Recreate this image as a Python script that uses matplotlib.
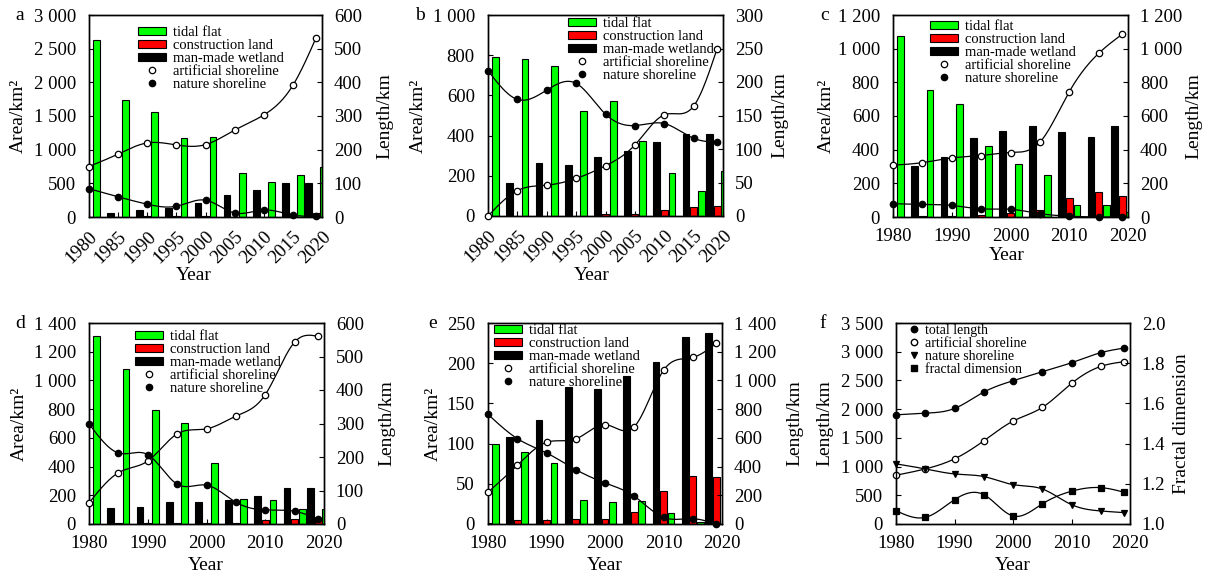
import numpy as np
import matplotlib
matplotlib.use("Agg")
import matplotlib.pyplot as plt
from matplotlib.patches import Patch
from matplotlib.lines import Line2D
from matplotlib.ticker import MultipleLocator, FuncFormatter

# ---------------- data ----------------
years = [1980, 1985, 1990, 1995, 2000, 2005, 2010, 2015, 2019]

a_tidal = [2630, 1740, 1560, 1180, 1190, 650, 520, 630, 745]
a_constr = [0, 5, 20, 15, 15, 5, 5, 5, 55]
a_wetland = [0, 62, 105, 140, 210, 330, 395, 505, 505]
a_artificial = [150, 187, 220, 214, 215, 258, 303, 391, 533]
a_nature = [84, 60, 38, 32, 50, 12, 21, 6, 2]

b_tidal = [790, 780, 745, 520, 572, 375, 215, 123, 225]
b_constr = [0, 0, 0, 0, 8, 8, 30, 43, 50]
b_wetland = [0, 165, 262, 252, 295, 322, 367, 410, 410]
b_artificial = [0, 38, 46, 56, 75, 106, 151, 164, 250]
b_nature = [217, 174, 188, 198, 152, 135, 138, 116, 110]

c_tidal = [1075, 756, 671, 419, 313, 248, 69, 71, 30]
c_constr = [0, 3, 5, 10, 22, 44, 115, 151, 125]
c_wetland = [0, 304, 357, 472, 510, 540, 502, 476, 542]
c_artificial = [308, 323, 351, 365, 383, 444, 744, 972, 1085]
c_nature = [79, 75, 69, 48, 46, 20, 5, 0, 0]

d_tidal = [1310, 1078, 794, 706, 423, 177, 167, 107, 102]
d_constr = [0, 5, 5, 5, 5, 10, 28, 33, 35]
d_wetland = [0, 114, 116, 151, 156, 167, 198, 251, 253]
d_artificial = [63, 153, 188, 269, 284, 322, 386, 543, 560]
d_nature = [299, 212, 207, 119, 116, 65, 42, 38, 15]

e_tidal = [100, 89, 76, 30, 27, 29, 14, 3, 0]
e_constr = [1, 4.5, 4.5, 6, 6, 15, 41, 60, 59]
e_wetland = [0, 108, 129, 170, 167.5, 183.5, 202, 232.5, 237]
e_artificial = [221, 409, 569, 592, 692, 677, 1070, 1160, 1258]
e_nature = [764, 595, 495, 379, 286, 193, 46, 37, 0]

f_total = [1901, 1930, 2012, 2297, 2494, 2651, 2808, 2983, 3064]
f_artificial = [849, 959, 1134, 1448, 1791, 2029, 2448, 2744, 2826]
f_nature = [1047, 959, 872, 826, 686, 610, 337, 227, 198]
f_fractal = [1.066, 1.033, 1.121, 1.146, 1.040, 1.100, 1.163, 1.181, 1.158]

bar_labels = ["tidal flat", "construction land", "man-made wetland"]
line_labels = ["artificial shoreline", "nature shoreline"]
f_labels = ["total length", "artificial shoreline", "nature shoreline", "fractal dimension"]

# ---------------- style ----------------
plt.rcParams["font.family"] = ["Liberation Serif", "DejaVu Serif"]
TICK_FS = 13.5
LAB_FS = 14
LEG_FS = 10.5
GREEN = "#00ff00"
RED = "#ff0000"

W, H = 1205, 578
fig = plt.figure(figsize=(W / 100, H / 100), dpi=100)


def rect(l, t, r, b):
    return [l / W, 1 - b / H, (r - l) / W, (b - t) / H]


def spaced(v, pos=None):
    return f"{v:,.0f}".replace(",", " ")


def smooth(x, y, n=300):
    # natural cubic spline through the points (for drawing the smooth connecting line)
    x = np.asarray(x, float)
    y = np.asarray(y, float)
    m = len(x)
    h = np.diff(x)
    A = np.zeros((m, m))
    r = np.zeros(m)
    A[0, 0] = A[-1, -1] = 1
    for i in range(1, m - 1):
        A[i, i - 1] = h[i - 1]
        A[i, i] = 2 * (h[i - 1] + h[i])
        A[i, i + 1] = h[i]
        r[i] = 3 * ((y[i + 1] - y[i]) / h[i] - (y[i] - y[i - 1]) / h[i - 1])
    c = np.linalg.solve(A, r)
    b = (y[1:] - y[:-1]) / h - h * (2 * c[:-1] + c[1:]) / 3
    d = (c[1:] - c[:-1]) / (3 * h)
    xs = np.linspace(x[0], x[-1], n)
    idx = np.clip(np.searchsorted(x, xs) - 1, 0, m - 2)
    dx = xs - x[idx]
    return xs, y[idx] + b[idx] * dx + c[idx] * dx ** 2 + d[idx] * dx ** 3


def style_axis(ax, right=False):
    ax.tick_params(direction="in", labelsize=TICK_FS, length=3.5, width=0.8)
    ax.tick_params(axis="y", pad=8.5 if right else 9.5)
    ax.tick_params(axis="x", pad=8)
    for s in ax.spines.values():
        s.set_linewidth(1.0)


def set_lab(axis_obj, px_rect, x_px, y_px):
    l, t, r, b = px_rect
    axis_obj.set_label_coords((x_px - l) / (r - l), (b - y_px) / (b - t))


def series_line(ax, x, y, marker, face, ms=4.6):
    xs, ys = smooth(x, y)
    ax.plot(xs, ys, color="black", lw=0.9, zorder=3)
    ax.plot(x, y, ls="none", marker=marker, mfc=face, mec="black", mew=0.9,
            ms=ms, zorder=4, clip_on=False)


def bar_panel(px, tidal, constr, wetland, artificial, nature, ylim_l, step_l,
              ylim_r, step_r, rotate, letter, letter_px, ylab_x, y2lab_x,
              xlab_px, leg_px):
    ax = fig.add_axes(rect(*px))
    yrs = np.array(years, float)
    w = 1.15
    off = 1.3
    ax.bar(yrs - off, wetland, w, color="black", edgecolor="black", lw=0.8, zorder=2)
    ax.bar(yrs, constr, w, color=RED, edgecolor="black", lw=0.8, zorder=2)
    ax.bar(yrs + off, tidal, w, color=GREEN, edgecolor="black", lw=0.8, zorder=2)
    ax.set_xlim(1980, 2020)
    ax.set_ylim(*ylim_l)
    ax.yaxis.set_major_locator(MultipleLocator(step_l))
    ax.yaxis.set_major_formatter(FuncFormatter(spaced))
    ax.xaxis.set_major_locator(MultipleLocator(5 if rotate else 10))
    style_axis(ax)
    ax.tick_params(axis="x", top=False)
    if rotate:
        for lab in ax.get_xticklabels():
            lab.set_rotation(45)
            lab.set_ha("right")
            lab.set_va("top")
            lab.set_rotation_mode("anchor")

    ax2 = ax.twinx()
    series_line(ax2, years, artificial, "o", "white")
    series_line(ax2, years, nature, "o", "black")
    ax2.set_ylim(*ylim_r)
    ax2.yaxis.set_major_locator(MultipleLocator(step_r))
    ax2.yaxis.set_major_formatter(FuncFormatter(spaced))
    style_axis(ax2, right=True)

    ax.set_ylabel("Area/km²", fontsize=LAB_FS, va="center")
    set_lab(ax.yaxis, px, ylab_x, (px[1] + px[3]) / 2)
    ax2.set_ylabel("Length/km", fontsize=LAB_FS, va="center")
    set_lab(ax2.yaxis, px, y2lab_x, (px[1] + px[3]) / 2)
    ax.set_xlabel("Year", fontsize=LAB_FS, va="center")
    set_lab(ax.xaxis, px, xlab_px[0], xlab_px[1])

    fig.text(letter_px[0] / W, 1 - letter_px[1] / H, letter, fontsize=LAB_FS,
             ha="center", va="center")

    handles = [Patch(facecolor=GREEN, edgecolor="black", lw=0.8),
               Patch(facecolor=RED, edgecolor="black", lw=0.8),
               Patch(facecolor="black", edgecolor="black", lw=0.8),
               Line2D([], [], ls="none", marker="o", mfc="white", mec="black", ms=4.6, mew=0.9),
               Line2D([], [], ls="none", marker="o", mfc="black", mec="black", ms=4.6, mew=0.9)]
    l, t, r, b = px
    ax2.legend(handles, bar_labels + line_labels, loc="upper left",
               bbox_to_anchor=((leg_px[0] - l) / (r - l), (b - leg_px[1]) / (b - t)),
               frameon=False, fontsize=LEG_FS, borderpad=0, borderaxespad=0,
               handlelength=1.9, handleheight=0.5, handletextpad=0.5,
               labelspacing=0.0)
    return ax, ax2


bar_panel((89, 15, 322, 217), a_tidal, a_constr, a_wetland, a_artificial, a_nature,
          (0, 3000), 500, (0, 600), 100, True, "a", (20, 15), 18, 385, (194, 276), (138, 26))
bar_panel((488, 15, 723, 216), b_tidal, b_constr, b_wetland, b_artificial, b_nature,
          (0, 1000), 200, (0, 300), 50, True, "b", (420, 15), 418, 780, (592, 276), (568, 17))
bar_panel((893, 15, 1128, 217), c_tidal, c_constr, c_wetland, c_artificial, c_nature,
          (0, 1200), 200, (0, 1200), 200, False, "c", (825, 15), 826, 1194, (1007, 256), (930, 20))
bar_panel((89, 323, 324, 524), d_tidal, d_constr, d_wetland, d_artificial, d_nature,
          (0, 1400), 200, (0, 600), 100, False, "d", (20, 323), 19, 387, (206, 566), (135, 330))
bar_panel((488, 323, 722, 524), e_tidal, e_constr, e_wetland, e_artificial, e_nature,
          (0, 250), 50, (0, 1400), 200, False, "e", (433, 323), 433, 795, (605, 566), (494, 324))

# ---------------- panel f ----------------
pf = (896, 323, 1130, 524)
axf = fig.add_axes(rect(*pf))
series_line(axf, years, f_total, "o", "black")
series_line(axf, years, f_artificial, "o", "white")
series_line(axf, years, f_nature, "v", "black")
axf.set_xlim(1980, 2020)
axf.set_ylim(0, 3500)
axf.xaxis.set_major_locator(MultipleLocator(10))
axf.yaxis.set_major_locator(MultipleLocator(500))
axf.yaxis.set_major_formatter(FuncFormatter(spaced))
style_axis(axf)
axf.tick_params(axis="x", top=False)
axf2 = axf.twinx()
series_line(axf2, years, f_fractal, "s", "black", ms=4.2)
axf2.set_ylim(1.0, 2.0)
axf2.yaxis.set_major_locator(MultipleLocator(0.2))
axf2.yaxis.set_major_formatter(FuncFormatter(lambda v, p: f"{v:.1f}"))
style_axis(axf2, right=True)
axf.set_ylabel("Length/km", fontsize=LAB_FS, va="center")
set_lab(axf.yaxis, pf, 825, (pf[1] + pf[3]) / 2)
axf2.set_ylabel("Fractal dimension", fontsize=LAB_FS, va="center")
set_lab(axf2.yaxis, pf, 1182, (pf[1] + pf[3]) / 2)
axf.set_xlabel("Year", fontsize=LAB_FS, va="center")
set_lab(axf.xaxis, pf, 1013, 566)
fig.text(823 / W, 1 - 323 / H, "f", fontsize=LAB_FS, ha="center", va="center")
fh = [Line2D([], [], ls="none", marker="o", mfc="black", mec="black", ms=4.6),
      Line2D([], [], ls="none", marker="o", mfc="white", mec="black", ms=4.6),
      Line2D([], [], ls="none", marker="v", mfc="black", mec="black", ms=4.6),
      Line2D([], [], ls="none", marker="s", mfc="black", mec="black", ms=4.2)]
l, t, r, b = pf
axf2.legend(fh, f_labels, loc="upper left",
            bbox_to_anchor=((907 - l) / (r - l), (b - 324) / (b - t)),
            frameon=False, fontsize=10, borderpad=0, borderaxespad=0,
            handlelength=1.0, handletextpad=0.3, labelspacing=0.0)

fig.savefig("out.png", dpi=100)
